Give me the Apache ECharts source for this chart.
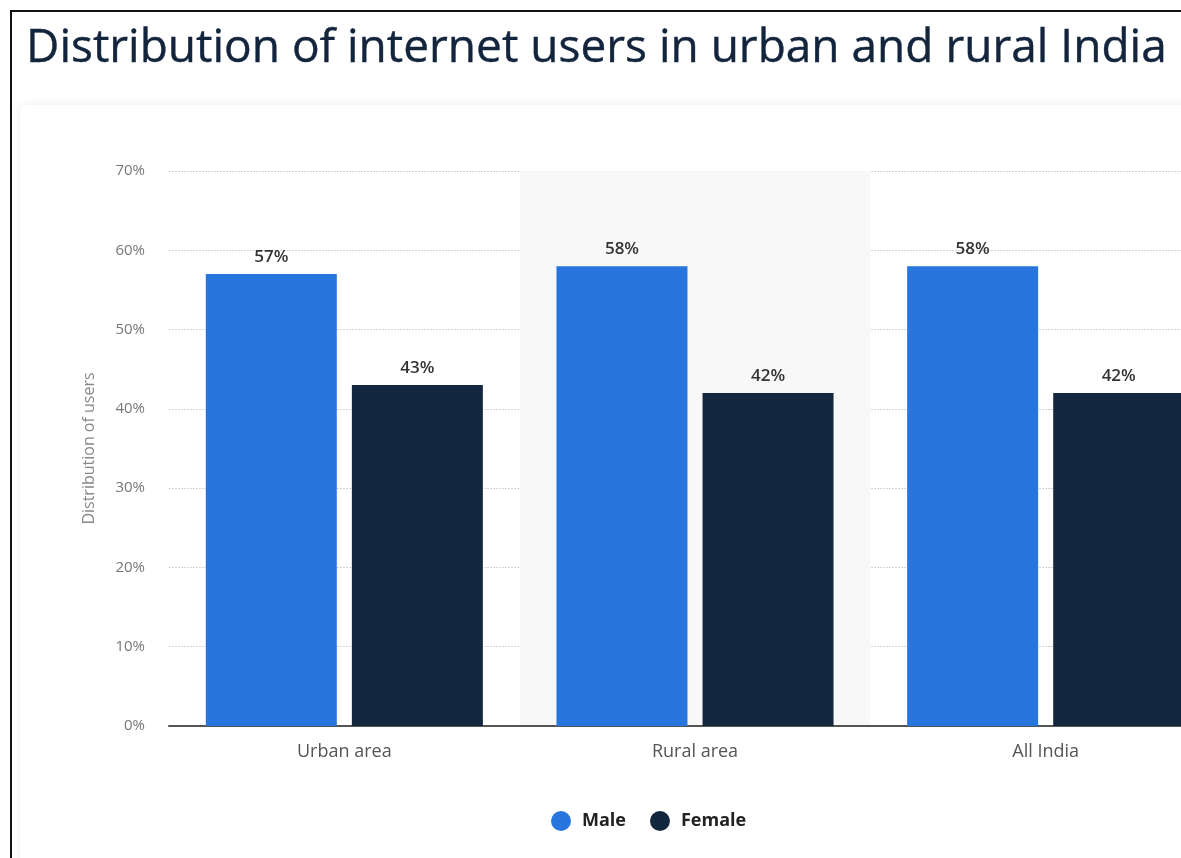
<!DOCTYPE html>
<html>
<head>
<meta charset="utf-8">
<script src="https://cdn.jsdelivr.net/npm/echarts@6/dist/echarts.min.js"></script>
<style>
  html, body { margin: 0; padding: 0; background: #fff; overflow: hidden; }
  #frame { position: absolute; left: 10px; top: 10px; width: 1400px; height: 900px;
           border-left: 2px solid #111; border-top: 2px solid #111; }
  #chart { position: absolute; left: 0; top: 0; width: 1300px; height: 858px; }
</style>
</head>
<body>
<div id="frame"></div>
<div id="chart"></div>
<script>
// chart data
const categories = ['Urban area', 'Rural area', 'All India']
const maleValues = [57, 58, 58]
const femaleValues = [43, 42, 42]
const seriesNames = ['Male', 'Female']
const titleText = 'Distribution of internet users in urban and rural India'

const chart = echarts.init(document.getElementById('chart'))

const barLabel = {
    show: true,
    position: 'top',
    distance: 8,
    formatter: '{c}%',
    color: '#333',
    fontSize: 17,
    fontWeight: 600,
    fontFamily: 'Open Sans'
}

const option = {
    animation: false,
    textStyle: { fontFamily: 'Open Sans' },
    title: {
        text: titleText,
        left: 21,
        top: 21,
        textStyle: { fontSize: 46, fontWeight: 'normal', color: '#13253d', fontFamily: 'Open Sans',
                     textBorderColor: '#13253d', textBorderWidth: 0.4 }
    },
    graphic: [
        {
            type: 'rect',
            z: -10,
            shape: { x: 20, y: 105, width: 1300, height: 800, r: 6 },
            style: { fill: '#fff', shadowBlur: 10, shadowColor: 'rgba(0,0,0,0.08)' }
        }
    ],
    legend: {
        data: seriesNames,
        left: 546,
        top: 806,
        icon: 'circle',
        itemWidth: 20,
        itemHeight: 20,
        itemGap: 24,
        textStyle: { fontSize: 18, fontWeight: 'bold', color: '#222', fontFamily: 'Open Sans', padding: [0, 0, 0, 6] }
    },
    grid: {
        left: 169,
        top: 171,
        width: 1052,
        height: 555
    },
    xAxis: {
        type: 'category',
        data: categories,
        axisLine: { lineStyle: { color: '#555', width: 2 } },
        axisTick: { show: false },
        axisLabel: { color: '#555', fontSize: 18, margin: 17 },
        splitArea: { show: true, areaStyle: { color: ['rgba(0,0,0,0)', '#f8f8f8'] } }
    },
    yAxis: {
        type: 'value',
        min: 0,
        max: 70,
        interval: 10,
        name: 'Distribution of users',
        nameLocation: 'middle',
        nameGap: 72,
        nameTextStyle: { color: '#888', fontSize: 16 },
        axisLabel: { formatter: '{value}%', color: '#777', fontSize: 15, margin: 24 },
        splitLine: { lineStyle: { color: '#d4d4d4', type: [2, 1] } }
    },
    series: [
        {
            name: seriesNames[0],
            type: 'bar',
            data: maleValues,
            barWidth: 131,
            barGap: '11.5%',
            itemStyle: { color: '#2876dd' },
            label: barLabel
        },
        {
            name: seriesNames[1],
            type: 'bar',
            data: femaleValues,
            barWidth: 131,
            itemStyle: { color: '#13273f' },
            label: barLabel
        }
    ]
}

chart.setOption(option)
</script>
</body>
</html>
